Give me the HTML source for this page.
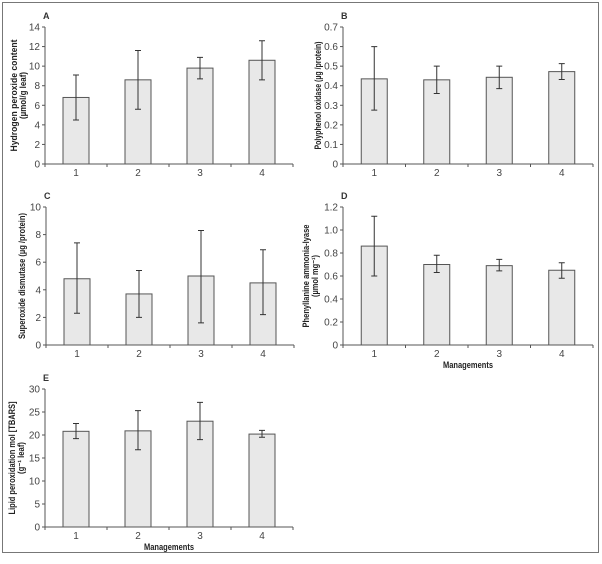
<!DOCTYPE html>
<html><head><meta charset="utf-8">
<style>
html,body{margin:0;padding:0;background:#fff;}
svg{display:block;font-family:"Liberation Sans",Arial,sans-serif;}
</style></head>
<body>
<svg id="fig" width="602" height="564" viewBox="0 0 602 564" xmlns="http://www.w3.org/2000/svg">
<rect x="2.5" y="2.5" width="596" height="550" fill="#fff" stroke="#777" stroke-width="1"/>
</svg>
<script>
const categories = ["1","2","3","4"];
const valuesA = [6.8, 8.6, 9.8, 10.6];
const lowA = [4.5, 5.6, 8.7, 8.6];
const highA = [9.1, 11.6, 10.9, 12.6];
const ticksA = [0,2,4,6,8,10,12,14];
const valuesB = [0.435, 0.43, 0.443, 0.472];
const lowB = [0.275, 0.36, 0.385, 0.432];
const highB = [0.6, 0.5, 0.5, 0.513];
const ticksB = ["0","0.1","0.2","0.3","0.4","0.5","0.6","0.7"];
const valuesC = [4.8, 3.7, 5.0, 4.5];
const lowC = [2.3, 2.0, 1.6, 2.2];
const highC = [7.4, 5.4, 8.3, 6.9];
const ticksC = [0,2,4,6,8,10];
const valuesD = [0.86, 0.70, 0.69, 0.65];
const lowD = [0.6, 0.63, 0.645, 0.58];
const highD = [1.12, 0.78, 0.745, 0.715];
const ticksD = ["0","0.2","0.4","0.6","0.8","1.0","1.2"];
const valuesE = [20.8, 20.9, 23.0, 20.2];
const lowE = [19.2, 16.8, 19.0, 19.5];
const highE = [22.5, 25.3, 27.1, 21.0];
const ticksE = [0,5,10,15,20,25,30];

const NS = "http://www.w3.org/2000/svg";
const svg = document.getElementById('fig');
function mk(tag, attrs, parent){
  const e = document.createElementNS(NS, tag);
  for (const k in attrs) e.setAttribute(k, attrs[k]);
  (parent||svg).appendChild(e);
  return e;
}
function panel(id, cfg){
  const g = mk('g', {});
  
  
  const x0 = cfg.x0, x1 = cfg.x1, yTop = cfg.yTop, yBot = cfg.yBot;
  const tmax = parseFloat(cfg.ticks[cfg.ticks.length-1]);
  const yS = v => yBot - (v / tmax) * (yBot - yTop);
  const band = (x1 - x0) / categories.length;
  const xS = i => x0 + band * (i + 0.5);
  const lt = mk('text', {x: x0 - 2, y: yTop - 8, 'font-size': 9, 'font-weight': 'bold', fill: '#333'}, g);
  lt.textContent = id;
  
  
  const ya = mk('line', {x1: x0, y1: yTop, x2: x0, y2: yBot, stroke: '#555', 'stroke-width': 1}, g);
  
  
  cfg.ticks.forEach(t => {
    const y = yS(parseFloat(t));
    mk('line', {x1: x0 - 3, y1: y, x2: x0, y2: y, stroke: '#555'}, g);
    const tx = mk('text', {x: x0 - 5, y: y + 3.5, 'font-size': 10, fill: '#444', 'text-anchor': 'end'}, g);
    tx.textContent = t;
    
    
  });
  const xa = mk('line', {x1: x0, y1: yBot, x2: x1, y2: yBot, stroke: '#555', 'stroke-width': 1}, g);
  
  
  for (let i = 0; i <= categories.length; i++) {
    mk('line', {x1: x0 + band*i, y1: yBot, x2: x0 + band*i, y2: yBot + 3, stroke: '#555'}, g);
  }
  categories.forEach((c, i) => {
    const v = cfg.values[i];
    const bw = 26;
    const bar = mk('rect', {x: xS(i) - bw/2, y: yS(v), width: bw, height: yBot - yS(v), fill: '#e8e8e8', stroke: '#555', 'stroke-width': 1}, g);
    
    
    const yl = yS(cfg.low[i]), yh = yS(cfg.high[i]);
    const eb = mk('path', {d: `M${xS(i)},${yl}V${yh}M${xS(i)-3},${yl}H${xS(i)+3}M${xS(i)-3},${yh}H${xS(i)+3}`, stroke: '#333', 'stroke-width': 1, fill: 'none'}, g);
    
    
    const tl = mk('text', {x: xS(i), y: yBot + 12, 'font-size': 10, fill: '#444', 'text-anchor': 'middle'}, g);
    tl.textContent = c;
    
    
  });
  const cy = (yTop + yBot) / 2;
  cfg.title.forEach((line, k) => {
    const tx = cfg.titleX + k * 9;
    const t = mk('text', {x: tx, y: cy, 'font-size': 9, 'font-weight': 'bold', fill: '#222', 'text-anchor': 'middle', textLength: cfg.titleLen[k], lengthAdjust: 'spacingAndGlyphs', transform: `rotate(-90 ${tx} ${cy})`}, g);
    t.textContent = line;
    
    
  });
  if (cfg.xTitle) {
    const t = mk('text', {x: (x0 + x1) / 2, y: yBot + 23, 'font-size': 9, 'font-weight': 'bold', fill: '#222', 'text-anchor': 'middle', textLength: 50, lengthAdjust: 'spacingAndGlyphs'}, g);
    t.textContent = 'Managements';
    
    
  }
}
panel('A', {x0: 45, x1: 293, yTop: 27, yBot: 164, ticks: ticksA, values: valuesA, low: lowA, high: highA, title: ['Hydrogen peroxide content', '(µmol/g leaf)'], titleLen: [112, 47], titleX: 17});
panel('B', {x0: 343, x1: 593, yTop: 27, yBot: 164, ticks: ticksB, values: valuesB, low: lowB, high: highB, title: ['Polyphenol oxidase (µg /protein)'], titleLen: [108], titleX: 321});
panel('C', {x0: 46, x1: 294, yTop: 207, yBot: 345, ticks: ticksC, values: valuesC, low: lowC, high: highC, title: ['Superoxide dismutase (µg /protein)'], titleLen: [126], titleX: 25});
panel('D', {x0: 343, x1: 593, yTop: 207, yBot: 345, ticks: ticksD, values: valuesD, low: lowD, high: highD, title: ['Phenyllanine ammonia-lyase', '(µmol mg⁻¹)'], titleLen: [103, 42], titleX: 309, xTitle: true});
panel('E', {x0: 45, x1: 293, yTop: 389, yBot: 527, ticks: ticksE, values: valuesE, low: lowE, high: highE, title: ['Lipid peroxidation mol [TBARS]', '(g⁻¹ leaf)'], titleLen: [113, 32], titleX: 15, xTitle: true});
</script>
</body></html>
